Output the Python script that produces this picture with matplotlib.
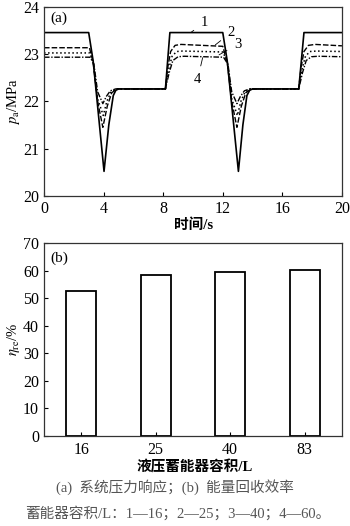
import numpy as np
import matplotlib
matplotlib.use("Agg")
import matplotlib.pyplot as plt

plt.rcParams['font.family'] = ['Liberation Serif', 'Noto Sans CJK SC', 'DejaVu Sans']
plt.rcParams['mathtext.fontset'] = 'stix'

# ── data: (a) system pressure response
t1 = [0, 3.0, 3.3, 4.03, 4.35, 4.65, 4.82, 5.0, 8.15, 8.45, 12.0, 12.3, 13.05,
      13.35, 13.62, 13.8, 14.0, 17.1, 17.45, 20]
p1 = [23.45, 23.45, 22.85, 20.52, 21.5, 22.12, 22.23, 22.26, 22.26, 23.45, 23.45,
      22.85, 20.52, 21.5, 22.12, 22.23, 22.26, 22.26, 23.45, 23.45]

t2 = [0, 3.05, 3.3, 3.6, 3.95, 4.25, 4.55, 4.9, 8.15, 8.3, 8.5, 8.8, 9.2, 12.0,
      12.3, 12.6, 12.95, 13.25, 13.55, 13.9, 17.1, 17.25, 17.45, 17.75, 18.2, 20]
p2 = [23.13, 23.13, 22.82, 22.0, 21.45, 21.9, 22.18, 22.26, 22.26, 22.7, 23.05,
      23.18, 23.2, 23.16, 22.82, 22.0, 21.45, 21.9, 22.18, 22.26, 22.26, 22.7,
      23.05, 23.18, 23.2, 23.17]

t3 = [0, 3.08, 3.32, 3.6, 3.98, 4.22, 4.5, 4.85, 8.15, 8.35, 8.6, 8.9, 9.3, 12.02,
      12.32, 12.6, 12.98, 13.22, 13.5, 13.85, 17.1, 17.3, 17.55, 17.85, 18.3, 20]
p3 = [23.02, 23.02, 22.8, 22.05, 21.7, 22.0, 22.2, 22.26, 22.26, 22.65, 22.95,
      23.05, 23.06, 23.04, 22.8, 22.05, 21.7, 22.0, 22.2, 22.26, 22.26, 22.65,
      22.95, 23.05, 23.06, 23.05]

t4 = [0, 3.1, 3.35, 3.6, 3.95, 4.18, 4.45, 4.8, 8.15, 8.4, 8.65, 9.0, 9.4, 12.05,
      12.35, 12.6, 12.95, 13.18, 13.45, 13.8, 17.1, 17.35, 17.6, 17.95, 18.4, 20]
p4 = [22.93, 22.93, 22.78, 22.2, 21.95, 22.1, 22.22, 22.26, 22.26, 22.6, 22.86,
      22.94, 22.95, 22.93, 22.78, 22.2, 21.95, 22.1, 22.22, 22.26, 22.26, 22.6,
      22.86, 22.94, 22.95, 22.94]

# ── data: (b) energy recovery efficiency
volumes = ['16', '25', '40', '83']
eta_re = [52.6, 58.4, 59.5, 60.2]

fig = plt.figure(figsize=(3.5, 5.26), dpi=100)
ax1 = fig.add_axes([0.1257, 0.6274, 0.8513, 0.3602])
ax2 = fig.add_axes([0.1257, 0.1711, 0.8513, 0.3669])

# ── (a)
ax1.plot(t1, p1, '-', color='black', lw=1.2)
ax1.plot(t2, p2, '--', color='black', lw=1.0, dashes=(4, 1.5))
ax1.plot(t3, p3, ':', color='black', lw=1.1)
ax1.plot(t4, p4, '-.', color='black', lw=1.0, dashes=(4, 1.2, 1, 1.2))
ax1.set_xlim(0, 20)
ax1.set_ylim(20, 24)
ax1.set_xticks([0, 4, 8, 12, 16, 20])
ax1.set_yticks([20, 21, 22, 23, 24])
ax1.set_ylabel(r'$p_\mathrm{a}$/MPa', fontsize=10.5, labelpad=1)
ax1.text(0.02, 0.92, '(a)', transform=ax1.transAxes, fontsize=11)

# curve labels with leader lines
for lab, xy, xyt in [('1', (9.85, 23.45), (10.75, 23.66)),
                     ('2', (11.5, 23.19), (12.55, 23.45)),
                     ('3', (11.75, 22.98), (13.0, 23.2)),
                     ('4', (10.65, 22.92), (10.3, 22.45))]:
    ax1.annotate(lab, xy=xy, xytext=xyt, fontsize=10.5, ha='center', va='center',
                 arrowprops=dict(arrowstyle='-', lw=0.6, color='black',
                                 shrinkA=3.5, shrinkB=0))

# ── (b)
x = np.arange(len(volumes))
ax2.bar(x, eta_re, width=0.4, color='white', edgecolor='black', lw=1.3)
ax2.set_xlim(-0.5, 3.5)
ax2.set_ylim(0, 70)
ax2.set_xticks(x)
ax2.set_xticklabels(volumes)
ax2.set_yticks(range(0, 71, 10))
ax2.tick_params(axis='x', length=0, pad=4)
ax2.set_ylabel(r'$\eta_\mathrm{re}$/%', fontsize=10.5, labelpad=1)
ax2.text(0.02, 0.9, '(b)', transform=ax2.transAxes, fontsize=11)

for ax in (ax1, ax2):
    ax.tick_params(direction='in', labelsize=11.5, length=3, width=0.8)
    for s in ax.spines.values():
        s.set_color('#333333')
        s.set_linewidth(0.9)

fig.text(0.552, 0.572, '时间/s', ha='center', va='center', fontsize=10.5, fontweight='bold')
fig.text(0.557, 0.112, '液压蓄能器容积/L', ha='center', va='center', fontsize=10.5,
         fontweight='bold')
fig.text(0.5, 0.074, '(a)  系统压力响应；(b)  能量回收效率', ha='center', va='center',
         fontsize=10.5, color='#555555')
fig.text(0.507, 0.0247, '蓄能器容积/L：1—16；2—25；3—40；4—60。', ha='center', va='center',
         fontsize=10.5, color='#555555')

fig.savefig('out.png', dpi=100)
